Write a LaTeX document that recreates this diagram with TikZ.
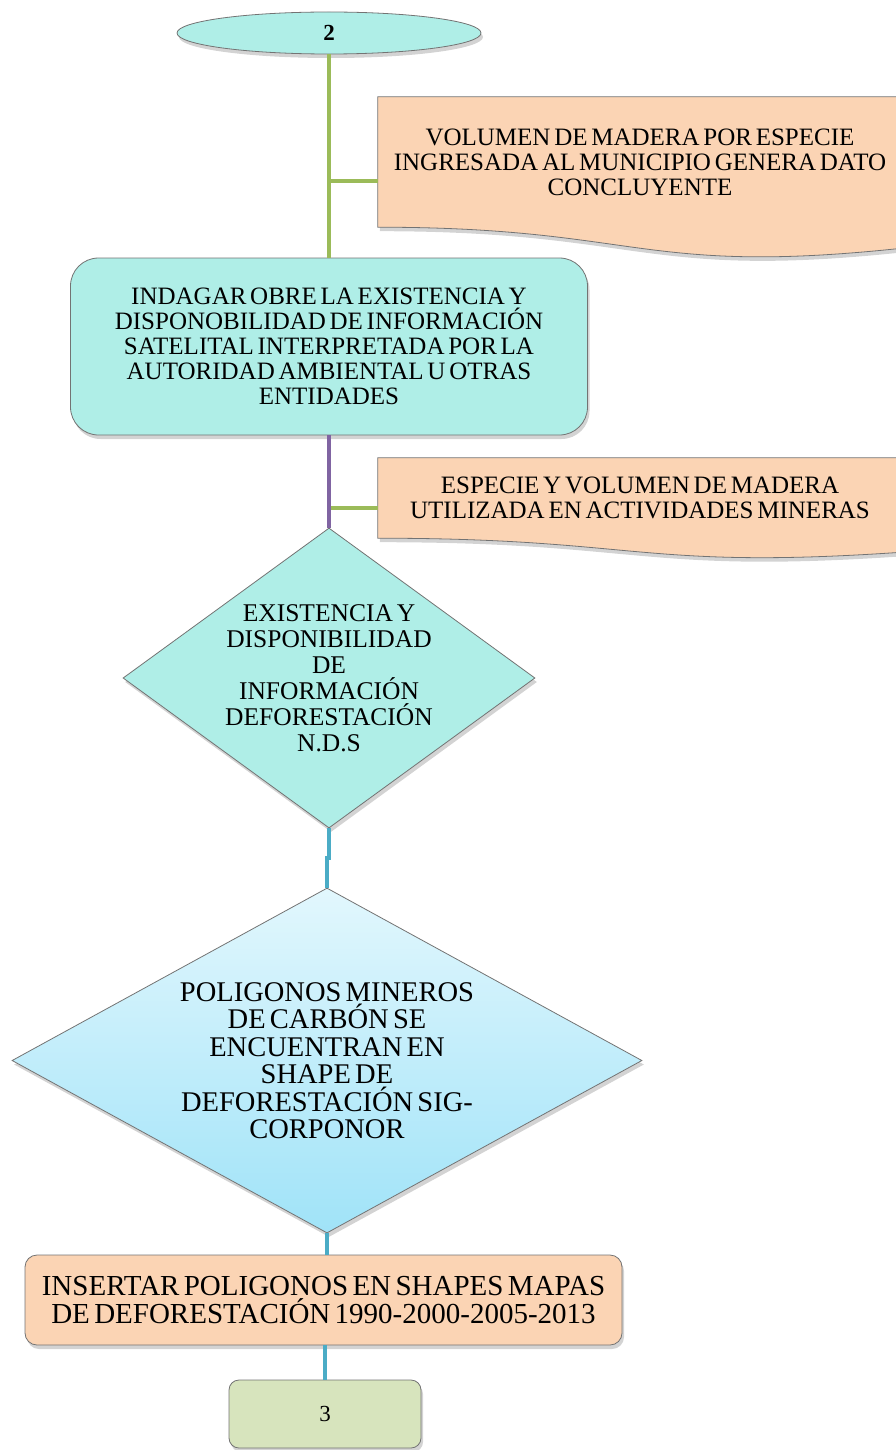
\documentclass[tikz,border=0pt]{standalone}
\usepackage{fontspec}
\setmainfont{Liberation Serif}[WordSpace=0.6]
\usetikzlibrary{shapes.geometric,shadows,calc}
\definecolor{turquesa}{RGB}{175,238,231}
\definecolor{durazno}{RGB}{251,212,180}
\definecolor{verdeclaro}{RGB}{215,228,189}
\definecolor{celesteA}{RGB}{226,247,253}
\definecolor{celesteB}{RGB}{160,227,248}
\definecolor{lineaverde}{RGB}{155,187,89}
\definecolor{lineamorada}{RGB}{128,100,162}
\definecolor{lineaazul}{RGB}{75,172,198}
\pgfdeclarelayer{fondo}
\pgfsetlayers{fondo,main}
\tikzset{
	sombra/.style={drop shadow={shadow xshift=2pt, shadow yshift=-4pt, opacity=.35}},
	borde/.style={draw=black!55, line width=.8pt},
	texto/.style={align=center, inner sep=0pt, font=\fontsize{25}{25}\selectfont},
	elipse/.style={borde, ellipse, fill=turquesa, sombra, minimum width=304pt,
		minimum height=42pt, inner sep=0pt, font=\fontsize{23}{23}\selectfont\bfseries},
	caja/.style={texto, borde, rectangle, rounded corners=28pt, fill=turquesa, sombra},
	nota/.style={texto, minimum width=524pt, minimum height=130pt},
	documento/.style={borde, fill=durazno, sombra},
	rombo/.style={borde, diamond, fill=turquesa, sombra, inner sep=0pt},
	rombodos/.style={borde, diamond, top color=celesteA, bottom color=celesteB,
		sombra, inner sep=0pt},
	pipe/.style={line width=4pt},
	pipeverde/.style={pipe, lineaverde},
	pipemorada/.style={pipe, lineamorada},
	pipeazul/.style={pipe, lineaazul}
}
\begin{document}
\begin{tikzpicture}[x=1pt,y=-1pt]
	\clip (0,0) rectangle (896,1450);
	% nodos
	\node[elipse] (inicio) at (329,33) {2};
	\node[nota] (vol) at (640,162) {VOLUMEN DE MADERA POR ESPECIE\\INGRESADA AL MUNICIPIO GENERA DATO\\CONCLUYENTE};
	\node[caja, minimum width=517pt, minimum height=177pt] (indagar) at (329,346.5) {INDAGAR OBRE LA EXISTENCIA Y\\DISPONOBILIDAD DE INFORMACIÓN\\SATELITAL INTERPRETADA POR LA\\AUTORIDAD AMBIENTAL U OTRAS\\ENTIDADES};
	\node[nota, minimum height=80pt] (ver) at (640,498) {ESPECIE Y VOLUMEN DE MADERA\\UTILIZADA EN ACTIVIDADES MINERAS};
	\node[rombo, minimum width=412pt, minimum height=300pt] (dec1) at (329,678) {};
	\node[texto, font=\fontsize{25.5}{26}\selectfont] (dec1txt) at (dec1) {EXISTENCIA Y\\DISPONIBILIDAD\\DE\\INFORMACIÓN\\DEFORESTACIÓN\\N.D.S};
	\node[rombodos, minimum width=630pt, minimum height=345pt] (dec2) at (327,1060.5) {};
	\node[texto, font=\fontsize{28.5}{27.5}\selectfont] (dec2txt) at (dec2) {POLIGONOS MINEROS\\DE CARBÓN SE\\ENCUENTRAN EN\\SHAPE DE\\DEFORESTACIÓN SIG-\\CORPONOR};
	\node[caja, rounded corners=12pt, fill=durazno, minimum width=597pt, minimum height=90pt,
		font=\fontsize{29}{28}\selectfont] (insertar) at (323.5,1300) {INSERTAR POLIGONOS EN SHAPES MAPAS\\DE DEFORESTACIÓN 1990-2000-2005-2013};
	\node[caja, rounded corners=10pt, fill=verdeclaro, minimum width=192pt, minimum height=68pt,
		font=\fontsize{23}{23}\selectfont] (fin) at (325,1414) {3};
	% notas con borde ondulado
	\begin{pgfonlayer}{fondo}
		\draw[documento] (vol.north west) -- (vol.north east) -- ($(vol.south east)+(0,21)$)
			.. controls ($(vol.south)+(0,49)$) and (vol.south) .. (vol.south west) -- cycle;
		\draw[documento] (ver.north west) -- (ver.north east) -- ($(ver.south east)+(0,14)$)
			.. controls ($(ver.south)+(0,32)$) and (ver.south) .. (ver.south west) -- cycle;
	\end{pgfonlayer}
	% conectores
	\coordinate (rama1) at (330,181);
	\coordinate (rama2) at (330,508);
	\draw[pipeverde] (rama1) -- (rama1 -| vol.west);
	\draw[pipeverde] (inicio.south) -- (inicio.south |- indagar.north);
	\draw[pipeverde] (rama2) -- (rama2 -| ver.west);
	\draw[pipemorada] (indagar.south) -- (dec1.north);
	\draw[pipeazul] (dec1.south) -- ++(0,30) -| (dec2.north);
	\draw[pipeazul] (dec2.south) -- (dec2.south |- insertar.north);
	\draw[pipeazul] (fin.north |- insertar.south) -- (fin.north);
\end{tikzpicture}
\end{document}
